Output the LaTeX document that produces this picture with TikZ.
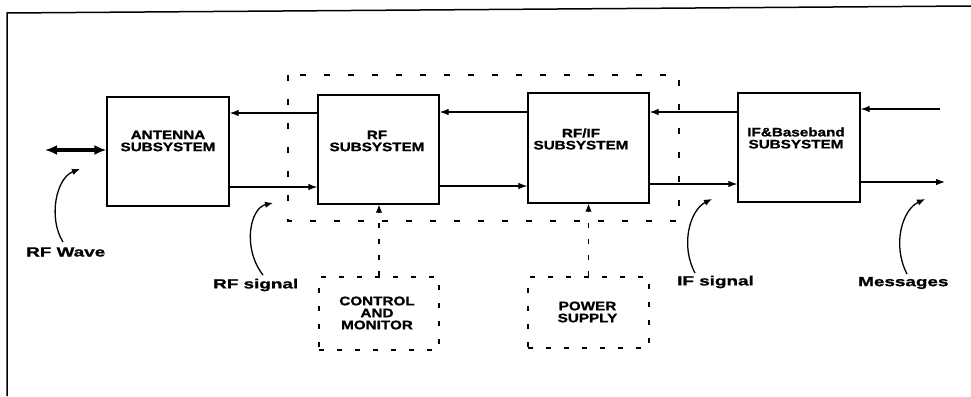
\documentclass[tikz,border=0pt]{standalone}
\usepackage{fontspec}
\setmainfont{Liberation Sans}
\newfontfamily\boxfont{Liberation Sans}[FakeStretch=1.24, FakeBold=1.2]
\newfontfamily\labfont{Liberation Sans}[FakeStretch=1.42, FakeBold=1.2]
\usetikzlibrary{arrows.meta}
\tikzset{
  blk/.style={draw, line width=1.3pt, inner sep=0pt},
  dblk/.style={draw, line width=1.2pt, dash pattern=on 5pt off 13pt, inner sep=0pt},
  btxt/.style={inner sep=0pt, align=center, font=\boxfont\bfseries\fontsize{12.3}{12}\selectfont},
  ltxt/.style={inner sep=0pt, font=\labfont\bfseries\fontsize{13.3}{13}\selectfont},
  arr/.style={line width=1.1pt, -{Latex[length=9pt,width=6.5pt]}},
  darr/.style={line width=1.1pt, dash pattern=on 5pt off 11pt, -{Latex[length=8pt,width=6.5pt]}},
  bidir/.style={line width=3.2pt, {Latex[length=12pt,width=10pt]}-{Latex[length=12pt,width=10pt]}},
  curv/.style={line width=1.3pt, -{Latex[length=8pt,width=6.5pt]}},
  encl/.style={line width=1.2pt, dash pattern=on 6pt off 18pt}
}
\begin{document}
\begin{tikzpicture}[x=1pt,y=-1pt]
\useasboundingbox (0,0) rectangle (971,396);
% frame
\draw[line width=1.5pt] (7,396) -- (7,13) -- (971,6);
% enclosure
\draw[encl] (288,75) rectangle (679,221);
% boxes
\node[blk, minimum width=122pt, minimum height=109pt] (ant) at (168,151.5) {};
\node[blk, minimum width=121pt, minimum height=109pt] (rf) at (378.5,149.5) {};
\node[blk, minimum width=121pt, minimum height=110pt] (rfif) at (588.5,148) {};
\node[blk, minimum width=122pt, minimum height=109pt] (ifbb) at (799,147.5) {};
\node[dblk, minimum width=120pt, minimum height=73pt] (ctrl) at (379,313.5) {};
\node[dblk, minimum width=121pt, minimum height=71pt] (pwr) at (588.5,312.5) {};
% box texts
\node[btxt] (tant) at (168,141) {ANTENNA\\SUBSYSTEM};
\node[btxt] (trf) at (377,141) {RF\\SUBSYSTEM};
\node[btxt] (trfif) at (581,139) {RF/IF\\SUBSYSTEM};
\node[btxt] (tifbb) at (796,138) {IF\&Baseband\\SUBSYSTEM};
\node[btxt] (tctrl) at (377,313) {CONTROL\\AND\\MONITOR};
\node[btxt] (tpwr) at (587.5,312) {POWER\\SUPPLY};
% y levels
\coordinate (yb1) at (0,113);
\coordinate (yb2) at (0,112);
\coordinate (yb3) at (0,112);
\coordinate (yf1) at (0,187);
\coordinate (yf2) at (0,186);
\coordinate (yf3) at (0,184);
\coordinate (bidl) at (45,150);
\coordinate (extin) at (940,109);
\coordinate (extout) at (945,182);
% connectors
\draw[bidir] (bidl) -- (ant.west |- bidl);
\draw[arr] (rf.west |- yb1) -- (ant.east |- yb1);
\draw[arr] (ant.east |- yf1) -- (rf.west |- yf1);
\draw[arr] (rfif.west |- yb2) -- (rf.east |- yb2);
\draw[arr] (rf.east |- yf2) -- (rfif.west |- yf2);
\draw[arr] (ifbb.west |- yb3) -- (rfif.east |- yb3);
\draw[arr] (rfif.east |- yf3) -- (ifbb.west |- yf3);
\draw[arr] (extin) -- (ifbb.east |- extin);
\draw[arr] (ifbb.east |- extout) -- (extout);
\draw[darr] (ctrl.north) -- (ctrl.north |- rf.south);
\draw[darr] (pwr.north) -- (pwr.north |- rfif.south);
% labels
\node[ltxt, anchor=west] (lwave) at (26,252) {RF Wave};
\node[ltxt, anchor=west] (lrfs) at (213,285) {RF signal};
\node[ltxt, anchor=west] (lifs) at (677,282) {IF signal};
\node[ltxt, anchor=west] (lmsg) at (858,283) {Messages};
\coordinate (twave) at (80,169);
\coordinate (trfs) at (273,203);
\coordinate (tifs) at (712,199);
\coordinate (tmsg) at (925,199);
\draw[curv] (63,242) .. controls (48,218) and (56,178) .. (twave);
\draw[curv] (263,275) .. controls (242,248) and (250,208) .. (trfs);
\draw[curv] (695,273) .. controls (680,245) and (690,210) .. (tifs);
\draw[curv] (907,274) .. controls (892,245) and (902,210) .. (tmsg);
\end{tikzpicture}
\end{document}
